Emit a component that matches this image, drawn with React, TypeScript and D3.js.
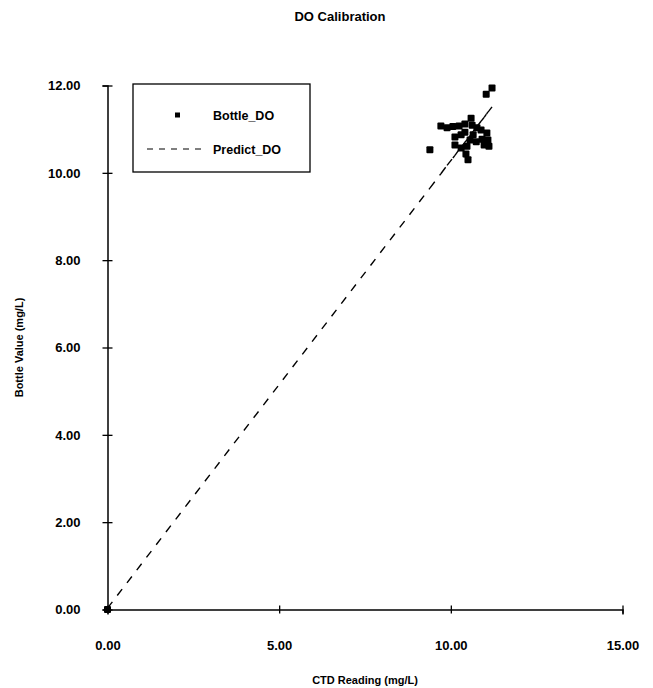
import React, { useEffect, useRef } from 'react';
import * as d3 from 'd3';

// CTD reading (x) and bottle DO (y)
const ctdReading = [0, 9.39, 9.71, 9.89, 10.06, 10.12, 10.12, 10.24, 10.3, 10.3, 10.41, 10.41, 10.44, 10.47, 10.5,
  10.56, 10.59, 10.62, 10.65, 10.74, 10.76, 10.88, 10.91, 10.97, 11.03, 11.05, 11.08, 11.11, 11.2];
const bottleDO = [0, 10.53, 11.07, 11.03, 11.06, 10.82, 10.64, 11.07, 10.87, 10.57, 11.12, 10.93, 10.43, 10.61, 10.3,
  10.75, 11.25, 11.09, 10.87, 10.71, 11.03, 10.98, 10.77, 10.64, 11.8, 10.91, 10.75, 10.61, 11.94];
const predictDO = [0.03, 9.65, 9.98, 10.17, 10.34, 10.4, 10.4, 10.53, 10.59, 10.59, 10.7, 10.7, 10.73, 10.76, 10.79,
  10.85, 10.88, 10.92, 10.95, 11.04, 11.06, 11.18, 11.21, 11.27, 11.34, 11.36, 11.39, 11.42, 11.51];

const xTicks = [0, 5, 10, 15];
const yTicks = [0, 2, 4, 6, 8, 10, 12];

const App = () => {
  const svgRef = useRef<SVGSVGElement>(null);
  const width = 653;
  const height = 688;
  const left = 107.5, right = 622.5, top = 85.5, bottom = 609.5;
  const font = '"Liberation Sans", Arial, Helvetica, sans-serif';

  useEffect(() => {
    const svg = d3.select(svgRef.current);
    svg.selectAll('*').remove();

    const x = d3.scaleLinear().domain([0, 15]).range([left, right]);
    const y = d3.scaleLinear().domain([0, 12]).range([bottom, top]);
    const fmt = d3.format('.2f');

    svg.append('rect').attr('width', width).attr('height', height).attr('fill', '#fff');

    svg.append('text')
      .attr('x', 340).attr('y', 21)
      .attr('text-anchor', 'middle')
      .attr('font-family', font).attr('font-weight', 'bold').attr('font-size', 13)
      .attr('fill', '#000')
      .text('DO Calibration');

    // y axis
    const yAxis = svg.append('g')
      .attr('transform', `translate(${left},0)`)
      .call(d3.axisLeft(y).tickValues(yTicks).tickFormat(d => fmt(d as number)).tickSizeOuter(0).tickSize(5).tickPadding(22));
    yAxis.selectAll('.tick line').attr('x1', 5).attr('x2', -5).attr('stroke-width', 1.3);
    yAxis.select('.domain').attr('stroke-width', 1.5);
    yAxis.selectAll('.tick text')
      .attr('font-family', font).attr('font-weight', 'bold').attr('font-size', 13).attr('fill', '#000');

    // x axis
    const xAxis = svg.append('g')
      .attr('transform', `translate(0,${bottom})`)
      .call(d3.axisBottom(x).tickValues(xTicks).tickFormat(d => fmt(d as number)).tickSizeOuter(0).tickSize(5).tickPadding(26));
    xAxis.selectAll('.tick line').attr('y1', -4).attr('y2', 4).attr('stroke-width', 1.3);
    xAxis.select('.domain').attr('stroke-width', 1.5);
    xAxis.selectAll('.tick text')
      .attr('font-family', font).attr('font-weight', 'bold').attr('font-size', 13).attr('fill', '#000');

    svg.append('text')
      .attr('x', (left + right) / 2).attr('y', 684)
      .attr('text-anchor', 'middle')
      .attr('font-family', font).attr('font-weight', 'bold').attr('font-size', 11)
      .attr('fill', '#000')
      .text('CTD Reading (mg/L)');

    svg.append('text')
      .attr('transform', `translate(23,${(top + bottom) / 2}) rotate(-90)`)
      .attr('text-anchor', 'middle')
      .attr('font-family', font).attr('font-weight', 'bold').attr('font-size', 11)
      .attr('fill', '#000')
      .text('Bottle Value (mg/L)');

    // Predict_DO: each segment dashed on its own, as the plotter did
    const pts = ctdReading.map((c, i) => [c, predictDO[i]] as [number, number]);
    const line = d3.line<[number, number]>().x(d => x(d[0])).y(d => y(d[1]));
    svg.append('g').selectAll('path')
      .data(d3.pairs(pts))
      .join('path')
      .attr('d', d => line(d))
      .attr('fill', 'none')
      .attr('stroke', '#000')
      .attr('stroke-width', 1.4)
      .attr('stroke-dasharray', '8,8');

    // Bottle_DO markers
    const s = 7;
    svg.append('g').selectAll('rect')
      .data(ctdReading.map((c, i) => [c, bottleDO[i]]))
      .join('rect')
      .attr('x', d => x(d[0]) - s / 2)
      .attr('y', d => y(d[1]) - s / 2)
      .attr('width', s).attr('height', s)
      .attr('rx', 1)
      .attr('fill', '#000');

    // legend
    const lg = svg.append('g');
    lg.append('rect')
      .attr('x', 133).attr('y', 84).attr('width', 177).attr('height', 88)
      .attr('fill', '#fff').attr('stroke', '#000').attr('stroke-width', 1.3);
    lg.append('rect')
      .attr('x', 175).attr('y', 112.5).attr('width', 5).attr('height', 5).attr('fill', '#000');
    lg.append('line')
      .attr('x1', 147).attr('x2', 202).attr('y1', 149).attr('y2', 149)
      .attr('stroke', '#000').attr('stroke-width', 1.2).attr('stroke-dasharray', '6,6');
    lg.append('text')
      .attr('x', 213).attr('y', 119.5)
      .attr('font-family', font).attr('font-weight', 'bold').attr('font-size', 12.5)
      .attr('fill', '#000')
      .text('Bottle_DO');
    lg.append('text')
      .attr('x', 213).attr('y', 153.5)
      .attr('font-family', font).attr('font-weight', 'bold').attr('font-size', 12.5)
      .attr('fill', '#000')
      .text('Predict_DO');
  }, []);

  return (
    <svg ref={svgRef} width={width} height={height}
      style={{ position: 'absolute', left: 0, top: 0, display: 'block' }} />
  );
};

export default App;
